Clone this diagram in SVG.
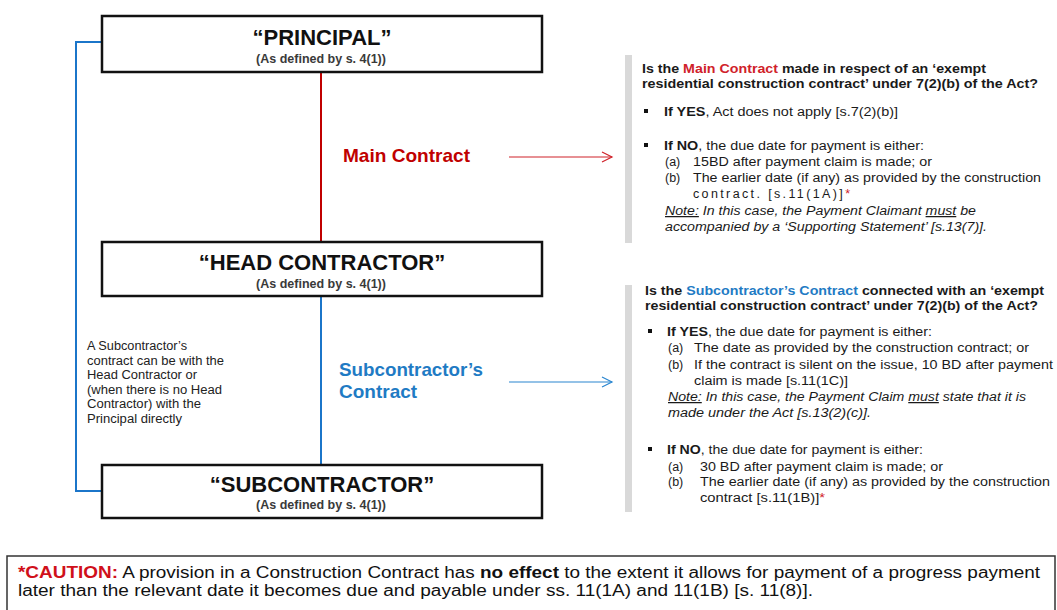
<svg xmlns="http://www.w3.org/2000/svg" width="1057" height="610" viewBox="0 0 1057 610">
<style>
text{font-family:"Liberation Sans",Arial,Helvetica,sans-serif;fill:#1a1a1a}
.box{fill:#fff;stroke:#111;stroke-width:2.5}
.ttl{font-size:22px;font-weight:bold;text-anchor:middle;fill:#111}
.sub{font-size:12.5px;font-weight:bold;text-anchor:middle;fill:#3a3a3a}
.red{stroke:#c00000;stroke-width:2;fill:none}
.blue{stroke:#1b75c9;stroke-width:2;fill:none}
.ared{stroke:#d0222a;stroke-width:1.2;fill:none}
.ablue{stroke:#2a86d0;stroke-width:1.2;fill:none}
.lbl{font-size:19px;font-weight:bold}
.hd{font-size:13.5px;font-weight:bold}
.bd{font-size:12.5px}
.sm{font-size:12px;fill:#222}
.bar{fill:#d9d9d9}
.bul{fill:#111}
.cau{font-size:16px;fill:#111}
.it{font-style:italic}
.u{text-decoration:underline}
</style>
<defs>
<marker id="ahr" markerUnits="userSpaceOnUse" markerWidth="14" markerHeight="14" refX="11" refY="6" orient="auto" viewBox="0 0 14 12">
<path d="M1,1 L11,6 L1,11" fill="none" stroke="#d0222a" stroke-width="1.2"/>
</marker>
<marker id="ahb" markerUnits="userSpaceOnUse" markerWidth="14" markerHeight="14" refX="11" refY="6" orient="auto" viewBox="0 0 14 12">
<path d="M1,1 L11,6 L1,11" fill="none" stroke="#2a86d0" stroke-width="1.2"/>
</marker>
</defs>
<rect width="1057" height="610" fill="#fff"/>

<g id="connectors">
<line class="red" x1="321" y1="72" x2="321" y2="242"/>
<line class="blue" x1="321" y1="296" x2="321" y2="465"/>
<polyline class="blue" points="102,42 76,42 76,491 102,491"/>
<line class="ared" x1="509" y1="157" x2="612" y2="157" marker-end="url(#ahr)"/>
<line class="ablue" x1="509" y1="382" x2="612" y2="382" marker-end="url(#ahb)"/>
</g>

<g id="principal">
<rect class="box" x="102" y="16" width="440" height="56"/>
<text class="ttl" x="322" y="45">“PRINCIPAL”</text>
<text class="sub" x="321" y="63">(As defined by s. 4(1))</text>
</g>

<g id="head-contractor">
<rect class="box" x="102" y="242" width="440" height="54"/>
<text class="ttl" x="322" y="270">“HEAD CONTRACTOR”</text>
<text class="sub" x="321" y="288">(As defined by s. 4(1))</text>
</g>

<g id="subcontractor">
<rect class="box" x="102" y="465" width="440" height="53"/>
<text class="ttl" x="322" y="492">“SUBCONTRACTOR”</text>
<text class="sub" x="321" y="509">(As defined by s. 4(1))</text>
</g>

<g id="main-contract-label">
<text class="lbl" x="343" y="162" style="fill:#c00000" textLength="127" lengthAdjust="spacingAndGlyphs">Main Contract</text>
</g>

<g id="subcontractors-contract-label">
<text class="lbl" x="339" y="376" style="fill:#1f7bc4" textLength="144" lengthAdjust="spacingAndGlyphs">Subcontractor’s</text>
<text class="lbl" x="339" y="398" style="fill:#1f7bc4">Contract</text>
</g>

<g id="left-note">
<text class="sm" x="87" y="350" textLength="100" lengthAdjust="spacingAndGlyphs">A Subcontractor’s</text>
<text class="sm" x="87" y="364.6" textLength="137" lengthAdjust="spacingAndGlyphs">contract can be with the</text>
<text class="sm" x="87" y="379.2" textLength="110" lengthAdjust="spacingAndGlyphs">Head Contractor or</text>
<text class="sm" x="87" y="393.8" textLength="135" lengthAdjust="spacingAndGlyphs">(when there is no Head</text>
<text class="sm" x="87" y="408.4" textLength="114" lengthAdjust="spacingAndGlyphs">Contractor) with the</text>
<text class="sm" x="87" y="423" textLength="95" lengthAdjust="spacingAndGlyphs">Principal directly</text>
</g>

<g id="main-contract-panel">
<rect class="bar" x="625" y="55" width="7" height="188"/>
<text class="hd" x="642" y="73" textLength="344" lengthAdjust="spacingAndGlyphs">Is the <tspan style="fill:#d0222a">Main Contract</tspan> made in respect of an ‘exempt</text>
<text class="hd" x="642" y="88" textLength="396" lengthAdjust="spacingAndGlyphs">residential construction contract’ under 7(2)(b) of the Act?</text>
<rect class="bul" x="644" y="109" width="4" height="4"/>
<text class="bd" x="664" y="116" textLength="234" lengthAdjust="spacingAndGlyphs"><tspan font-weight="bold">If YES</tspan>, Act does not apply [s.7(2)(b)]</text>
<rect class="bul" x="644" y="143" width="4" height="4"/>
<text class="bd" x="664" y="150" textLength="260" lengthAdjust="spacingAndGlyphs"><tspan font-weight="bold">If NO</tspan>, the due date for payment is either:</text>
<text class="bd" x="665" y="166">(a)</text>
<text class="bd" x="693" y="166" textLength="239" lengthAdjust="spacingAndGlyphs">15BD after payment claim is made; or</text>
<text class="bd" x="665" y="182">(b)</text>
<text class="bd" x="693" y="182" textLength="348" lengthAdjust="spacingAndGlyphs">The earlier date (if any) as provided by the construction</text>
<text class="bd" x="693" y="198" textLength="157" lengthAdjust="spacing">contract. [s.11(1A)]<tspan style="fill:#d0222a">*</tspan></text>
<text class="bd it" x="665" y="215" textLength="311" lengthAdjust="spacingAndGlyphs"><tspan class="u">Note:</tspan> In this case, the Payment Claimant <tspan class="u">must</tspan> be</text>
<text class="bd it" x="665" y="231" textLength="322" lengthAdjust="spacingAndGlyphs">accompanied by a ‘Supporting Statement’ [s.13(7)].</text>
</g>

<g id="subcontract-panel">
<rect class="bar" x="625" y="285" width="7" height="227"/>
<text class="hd" x="645" y="295" textLength="399" lengthAdjust="spacingAndGlyphs">Is the <tspan style="fill:#1f7bc4">Subcontractor’s Contract</tspan> connected with an ‘exempt</text>
<text class="hd" x="645" y="310" textLength="393" lengthAdjust="spacingAndGlyphs">residential construction contract’ under 7(2)(b) of the Act?</text>
<rect class="bul" x="648" y="329" width="4" height="4"/>
<text class="bd" x="667" y="336" textLength="265" lengthAdjust="spacingAndGlyphs"><tspan font-weight="bold">If YES</tspan>, the due date for payment is either:</text>
<text class="bd" x="668" y="352">(a)</text>
<text class="bd" x="694" y="352" textLength="335" lengthAdjust="spacingAndGlyphs">The date as provided by the construction contract; or</text>
<text class="bd" x="668" y="369">(b)</text>
<text class="bd" x="694" y="369" textLength="359" lengthAdjust="spacingAndGlyphs">If the contract is silent on the issue, 10 BD after payment</text>
<text class="bd" x="694" y="385" textLength="154" lengthAdjust="spacingAndGlyphs">claim is made [s.11(1C)]</text>
<text class="bd it" x="668" y="401" textLength="358" lengthAdjust="spacingAndGlyphs"><tspan class="u">Note:</tspan> In this case, the Payment Claim <tspan class="u">must</tspan> state that it is</text>
<text class="bd it" x="668" y="417" textLength="203" lengthAdjust="spacingAndGlyphs">made under the Act [s.13(2)(c)].</text>
<rect class="bul" x="648" y="447" width="4" height="4"/>
<text class="bd" x="667" y="454" textLength="256" lengthAdjust="spacingAndGlyphs"><tspan font-weight="bold">If NO</tspan>, the due date for payment is either:</text>
<text class="bd" x="668" y="471">(a)</text>
<text class="bd" x="700" y="471" textLength="243" lengthAdjust="spacingAndGlyphs">30 BD after payment claim is made; or</text>
<text class="bd" x="668" y="486">(b)</text>
<text class="bd" x="700" y="486" textLength="350" lengthAdjust="spacingAndGlyphs">The earlier date (if any) as provided by the construction</text>
<text class="bd" x="700" y="502" textLength="125" lengthAdjust="spacingAndGlyphs">contract [s.11(1B)]<tspan style="fill:#d0222a">*</tspan></text>
</g>

<g id="caution">
<rect x="7" y="556" width="1048" height="70" fill="#fff" stroke="#333" stroke-width="1.5"/>
<text class="cau" x="18" y="578" textLength="1022" lengthAdjust="spacingAndGlyphs"><tspan font-weight="bold" style="fill:#d0101a">*CAUTION:</tspan> A provision in a Construction Contract has <tspan font-weight="bold">no effect</tspan> to the extent it allows for payment of a progress payment</text>
<text class="cau" x="18" y="596" textLength="795" lengthAdjust="spacingAndGlyphs">later than the relevant date it becomes due and payable under ss. 11(1A) and 11(1B) [s. 11(8)].</text>
</g>
</svg>
